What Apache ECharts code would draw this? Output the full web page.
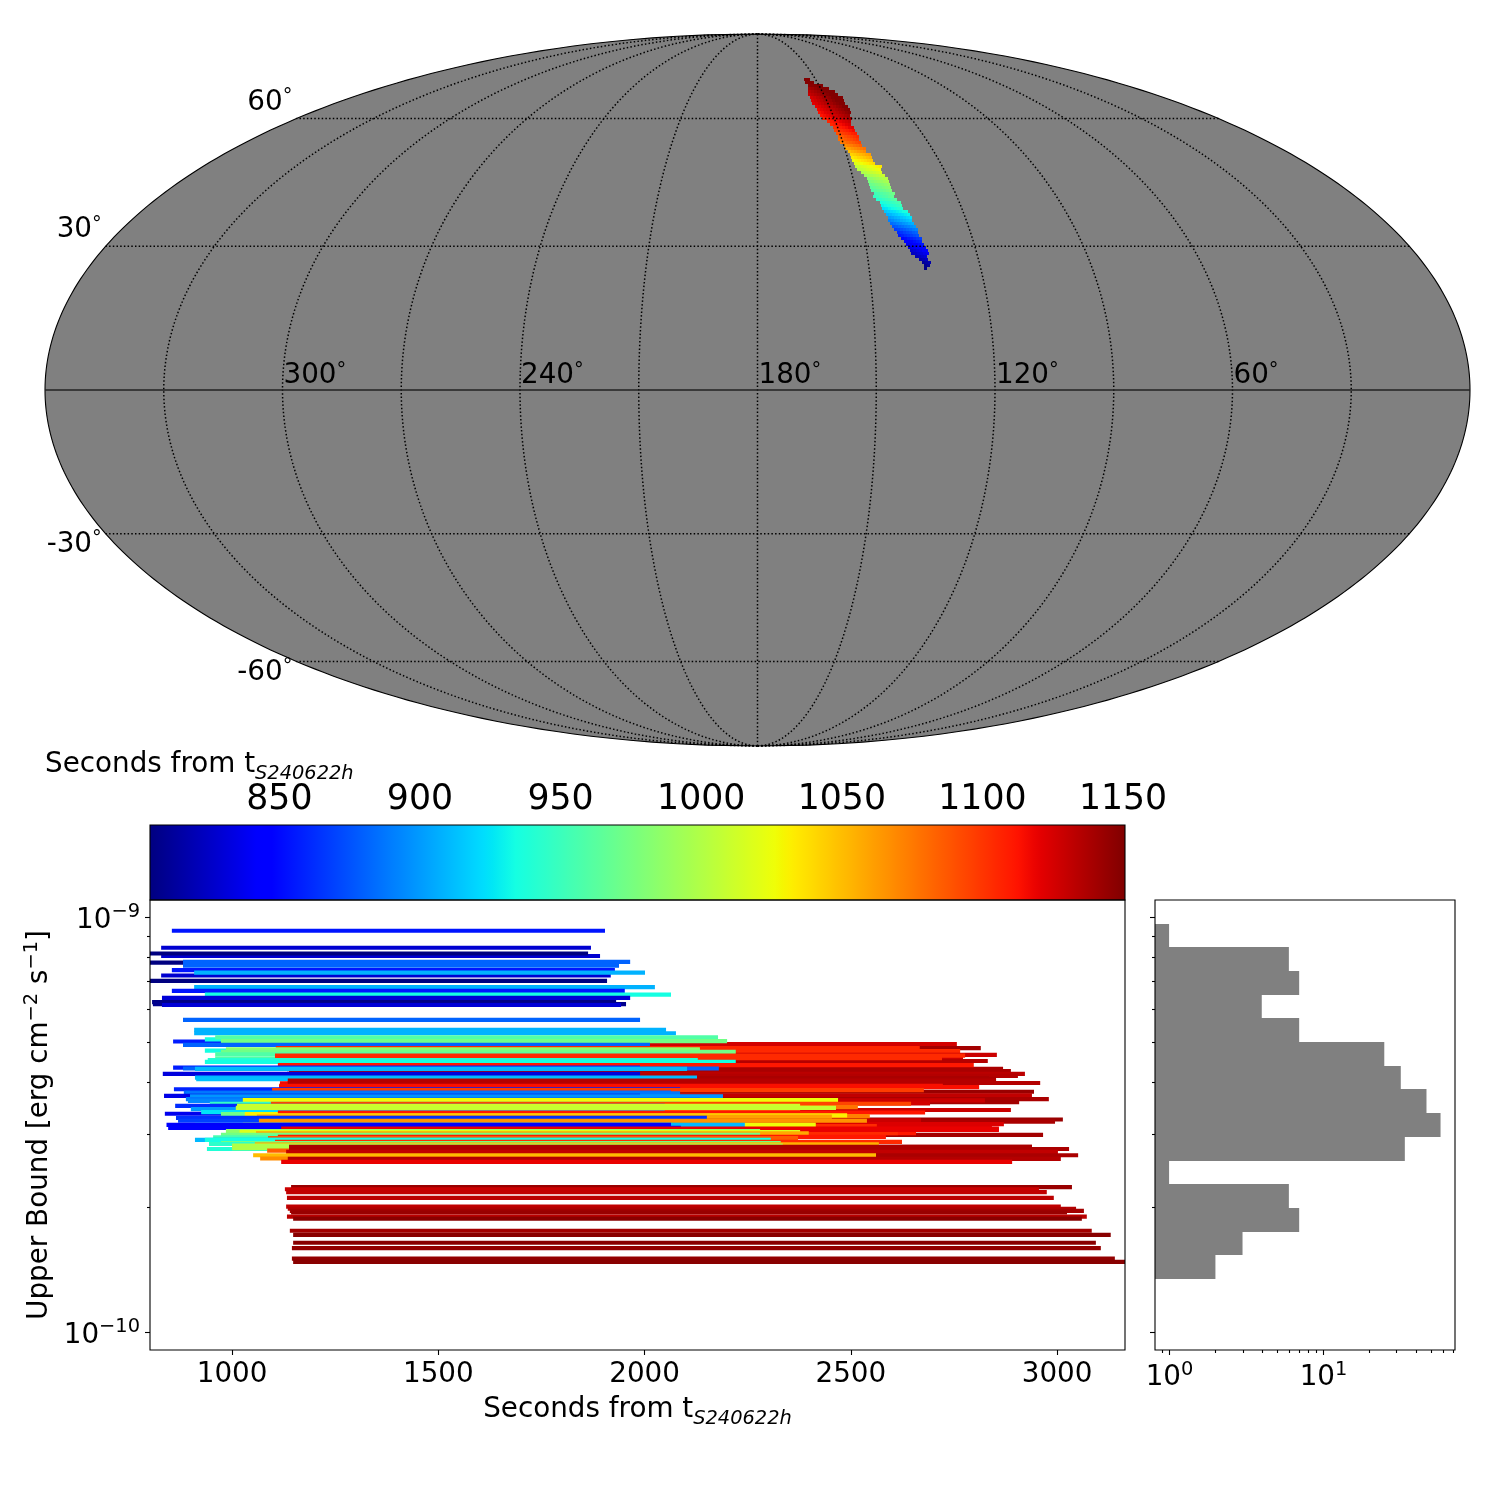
<!DOCTYPE html>
<html><head><meta charset="utf-8">
<style>html,body{margin:0;padding:0;background:#fff}#c{width:1500px;height:1500px}</style>
<script src="https://cdn.jsdelivr.net/npm/echarts@6/dist/echarts.min.js"></script>
</head><body><div id="c"></div>
<script>
// ---------- light-curve upper limits: start (s), end (s), log10(upper bound) ----------
const barStart = [854,828,828,800,800,881,881,854,828,908,800,908,854,934,830,806,808,830,881,908,908,
 1126,1140,1104,1128,1128,1135,1138,1138,1133,1135,1138,1138,1143,1131,1138,1140,1128,1126,1128,1143,1138,1128,1123,1123,1104,1140,1111,1104,1140,1119,
 857,934,959,973,881,1106,934,985,973,959,959,1104,1104,941,934,1111,857,881,910,832,910,913,1116,1135,1135,1114,1114,
 859,1097,883,888,835,898,888,893,1026,946,1094,862,900,1077,1077,1012,1009,837,925,973,1031,1111,1072,1031,1060,864,869,1065,
 1026,910,841,845,1119,985,1018,1058,973,954,1111,1087,910,934,1104,973,944,1055,1000,939,1000,1085,1138,1138,1131,1138,1051,1068,1135,1119,
 1143,1128,1131,1133,1131,1135,1140,1143,1133,1148,1140,1148,1148,1145,1145,1148];
const barEnd = [1904,1870,1892,1863,1867,1965,1938,1928,1918,2001,1909,2025,1952,2064,1965,1931,1955,1943,1989,2052,2076,
 2757,2815,2765,2854,2772,2832,2869,2888,2922,2905,2835,2852,2944,2939,2980,2908,2825,2692,2888,3014,2995,2670,2871,2842,2563,2966,2658,2614,2939,2859,
 1989,2049,2178,2200,2013,2667,2134,2134,2221,2110,2134,2777,2721,2129,2221,2798,1989,2180,2103,1989,2127,2127,2740,2852,2959,2723,2811,
 2086,2677,2064,2086,1989,2190,2134,2166,2469,2086,2646,2049,2110,2517,2377,2377,2464,1989,2049,2049,2425,2680,2546,2491,2454,2151,2086,2539,
 2415,2243,2064,2088,2859,2280,2377,2398,2280,2232,2585,2372,2134,2306,2624,2330,2134,2568,2335,2134,2255,2571,2939,3029,3002,3051,2561,2134,3009,2891,
 3036,2956,2975,2992,3009,3046,3065,3024,3072,3060,3084,3130,3094,3106,3140,3180];
const barLogUB = [-9.033,-9.074,-9.094,-9.088,-9.110,-9.108,-9.117,-9.128,-9.141,-9.134,-9.154,-9.169,-9.178,-9.187,-9.195,-9.205,-9.210,-9.212,-9.248,-9.272,-9.280,
 -9.306,-9.316,-9.323,-9.332,-9.340,-9.347,-9.366,-9.371,-9.378,-9.383,-9.388,-9.390,-9.421,-9.430,-9.439,-9.446,-9.442,-9.449,-9.465,-9.488,-9.493,-9.490,-9.499,-9.504,-9.504,-9.525,-9.521,-9.521,-9.554,-9.513,
 -9.300,-9.295,-9.290,-9.299,-9.308,-9.316,-9.322,-9.319,-9.325,-9.331,-9.341,-9.334,-9.340,-9.345,-9.349,-9.357,-9.363,-9.365,-9.366,-9.378,-9.387,-9.391,-9.401,-9.394,-9.400,-9.407,-9.410,
 -9.415,-9.417,-9.423,-9.425,-9.431,-9.432,-9.439,-9.443,-9.441,-9.450,-9.450,-9.455,-9.463,-9.458,-9.466,-9.455,-9.460,-9.474,-9.470,-9.475,-9.475,-9.471,-9.480,-9.478,-9.481,-9.484,-9.491,-9.491,
 -9.501,-9.501,-9.501,-9.508,-9.510,-9.516,-9.518,-9.521,-9.525,-9.531,-9.530,-9.533,-9.537,-9.537,-9.542,-9.545,-9.547,-9.548,-9.551,-9.559,-9.557,-9.563,-9.554,-9.559,-9.566,-9.574,-9.574,-9.582,-9.583,-9.590,
 -9.651,-9.656,-9.663,-9.677,-9.698,-9.703,-9.708,-9.712,-9.722,-9.727,-9.756,-9.766,-9.785,-9.798,-9.823,-9.831];

// ---------- histogram of upper bounds ----------
const histEdgesLog = [-9.017,-9.072,-9.130,-9.188,-9.243,-9.301,-9.359,-9.415,-9.472,-9.530,-9.588,-9.643,-9.701,-9.759,-9.815,-9.872];
const histCounts = [1,6,7,4,7,25,32,47,58,34,1,6,7,3,2];

// ---------- sky map: rows of cells in Mollweide map units, value = seconds ----------
const skyRowY = [311,308,305,302,299,296,293,290,287,284,281,278,275,272,269,266,263,260,257,254,251,248,245,242,239,236,233,230,227,224,221,218,215,212,209,206,203,200,197,194,191,188,185,182,179,176,173,170,167,164,161,158,155,152,149,146,143,140,137,134,131,128,125,122];
const skyRowX = [46.5,47.5,50.5,50.5,50.5,50.5,52.5,53.5,54.5,57.5,59.5,60.5,62.5,64.5,69.5,72.5,75.5,76.5,78.5,80.5,80.5,82.5,86.5,87.5,90.5,92.5,93.5,94.5,96.5,97.5,99.5,103.5,106.5,109.5,110.5,111.5,112.5,113.5,116.5,115.5,118.5,122.5,123.5,124.5,126.5,128.5,130.5,130.5,132.5,134.5,136.5,139.5,140.5,143.5,146.5,148.5,150.5,152.5,153.5,157.5,161.5,164.5,166.5,166.5];
const skyRowT = [
[1150,1150],[1149,1150,1150],[1147,1148,1149,1150,1150],[1140,1142,1145,1148,1150,1150,1150],
[1134,1137,1140,1143,1146,1149,1150,1150,1150],[1130,1133,1136,1139,1142,1145,1148,1150,1150,1150],
[1125,1128,1132,1135,1139,1142,1145,1149,1150,1150,1150],[1123,1126,1130,1133,1137,1140,1143,1147,1150,1150,1150],
[1121,1124,1128,1131,1135,1138,1141,1145,1148,1150,1150],[1119,1122,1126,1129,1133,1136,1139,1143,1146,1150,1150],
[1117,1120,1124,1127,1131,1134,1137,1141,1144,1148,1150],[1114,1117,1121,1124,1128,1131,1134,1138,1141,1145,1148],
[1112,1115,1118,1121,1125,1128,1132,1135,1139,1142],[1107,1110,1114,1117,1121,1124,1128,1131,1135,1138],
[1106,1110,1113,1117,1120,1124,1127,1130],[1105,1108,1112,1115,1118,1122,1125],[1102,1105,1109,1112,1115,1119,1122],
[1096,1099,1103,1106,1109,1113,1116],[1090,1093,1097,1100,1103,1107,1110],[1084,1087,1091,1094,1097,1101,1104],
[1079,1082,1086,1089,1092,1096,1099],[1074,1077,1081,1084,1087,1091,1094],[1067,1071,1074,1078,1081,1085],
[1058,1061,1065,1068,1071,1075,1078],[1051,1055,1058,1062,1065,1069],[1042,1045,1049,1052,1055,1059,1062],
[1034,1037,1041,1044,1047,1051,1054],[1026,1029,1033,1036,1039,1043,1046],[1019,1022,1026,1029,1032,1036,1039],
[1007,1010,1014,1017,1021,1024,1028,1031,1035],[1002,1006,1009,1013,1016,1020,1023,1026],[998,1001,1005,1008,1011,1015,1018],
[990,993,997,1000,1003,1007,1010],[983,986,990,993,996,1000,1003],[976,979,983,986,989,993,996],[969,972,976,979,982,986,989],
[964,967,971,974,977,981,984],[958,961,965,968,971,975,978],[952,955,959,962,965,969,972],[947,950,954,957,960,964,967],
[942,945,949,952,955,959,962],[936,939,943,946,949,953,956],[930,933,937,940,943,947,950],[923,926,930,933,936,940,943],
[914,917,921,924,928,931,935,938],[907,910,914,917,921,924,928,931],[900,903,907,910,914,917,921,924],[892,895,899,902,906,909,913,916],
[884,887,891,894,898,901,905,908],[876,879,883,886,890,893,897,900],[868,871,875,878,882,885,889,892],[862,865,869,872,875,879,882],
[856,859,863,866,869,873,876],[848,851,855,858,861,865,868],[842,845,849,852,856,859],[837,840,844,847,851,854],[832,835,839,842,846,849],
[827,830,834,837,841,844],[822,825,829,832,836,839],[820,823,827,830],[817,820,823],[812,815,818],[808,812],[806]];

// ---------- axes and labels ----------
const skyMeridians = [30,60,90,120,150,180,210,240,270,300,330];
const skyParallels = [-60,-30,30,60];
const skyLonLabels = [300,240,180,120,60];
const skyLatLabels = [60,30,-30,-60];
const timeTicks = [1000,1500,2000,2500,3000];
const colorTicks = [850,900,950,1000,1050,1100,1150];
const ubMajor = [1e-9,1e-10];
const ubMinor = [9e-10,8e-10,7e-10,6e-10,5e-10,4e-10,3e-10,2e-10];
const histMajor = [1,10];
const histMinor = [0.9,2,3,4,5,6,7,8,9,20,30,40,50,60,70];
const timeLabel = 'Seconds from t';
const eventLabel = 'S240622h';

const FONT = 'DejaVu Sans';
const cMin = 804, cMax = 1150.7;
function lerp(p,x){ for(let i=1;i<p.length;i++){ if(x<=p[i][0]){ const a=p[i-1],b=p[i]; return a[1]+(b[1]-a[1])*(x-a[0])/(b[0]-a[0]); } } return p[p.length-1][1]; }
function jet(f){ f=Math.max(0,Math.min(1,f));
 const r=lerp([[0,0],[.35,0],[.66,1],[.89,1],[1,.5]],f), g=lerp([[0,0],[.125,0],[.375,1],[.64,1],[.91,0],[1,0]],f), b=lerp([[0,.5],[.11,1],[.34,1],[.65,0],[1,0]],f);
 return 'rgb('+Math.round(r*255)+','+Math.round(g*255)+','+Math.round(b*255)+')'; }
const timeColor = t => jet((t-cMin)/(cMax-cMin));

// Mollweide projection to map units
const AX=712.5, AY=356;
function moll(lon,lat){ const phi=lat*Math.PI/180; let th=phi;
 if(Math.abs(lat)>=90){ th=Math.sign(lat)*Math.PI/2; } else { for(let i=0;i<60;i++){ th-=(2*th+Math.sin(2*th)-Math.PI*Math.sin(phi))/(2+2*Math.cos(2*th)); } }
 return [-(lon-180)/180*AX*Math.cos(th), AY*Math.sin(th)]; }
const latSamples=[], lonSamples=[], boundary=[];
for(let a=-90;a<=90;a+=1) latSamples.push(a);
for(let a=0;a<=360;a+=2) lonSamples.push(a);
latSamples.forEach(a=>boundary.push(moll(0,a)));
latSamples.slice().reverse().forEach(a=>boundary.push(moll(360,a)));

const subStyles = {
 a:{fontSize:27.8,fontFamily:FONT,color:'#000',lineHeight:36},
 s:{fontSize:19.4,fontFamily:FONT,fontStyle:'italic',color:'#000',lineHeight:26,verticalAlign:'bottom',padding:[8,0,0,0]}
};
const subText = '{a|'+timeLabel+'}{s|'+eventLabel+'}';
const powStyles = {a:{fontSize:27.8,fontFamily:FONT,color:'#000',lineHeight:36},p:{fontSize:19.4,fontFamily:FONT,color:'#000',lineHeight:20,verticalAlign:'top',padding:[0,0,8,0]}};
const degStyles = {a:{fontSize:27.8,fontFamily:FONT,color:'#000',lineHeight:30},d:{fontSize:19.4,fontFamily:FONT,color:'#000',lineHeight:20,verticalAlign:'top',padding:[0,0,8,0]}};

const mainYMin=Math.pow(10,-10.0434), mainYMax=Math.pow(10,-8.959);
const barData=barStart.map((s,i)=>[s,barEnd[i],Math.pow(10,barLogUB[i])]);
const histData=histCounts.map((c,i)=>[c,Math.pow(10,histEdgesLog[i]),Math.pow(10,histEdgesLog[i+1])]);
const skyCells=[]; skyRowT.forEach((row,r)=>row.forEach((t,k)=>skyCells.push([skyRowX[r]+k*3,skyRowY[r],t])));

const series=[];
// sky background
series.push({type:'custom',xAxisIndex:0,yAxisIndex:0,silent:true,clip:false,data:[[0,0]],
 renderItem:(p,api)=>({type:'polygon',shape:{points:boundary.map(b=>api.coord(b))},style:{fill:'#808080',stroke:'#000',lineWidth:1.1}})});
// sky cells
series.push({type:'custom',xAxisIndex:0,yAxisIndex:0,silent:true,clip:false,encode:{x:0,y:1},data:skyCells,
 renderItem:(p,api)=>{const x=api.value(0),y=api.value(1),a=api.coord([x,y+1.5]),b=api.coord([x+3,y-1.5]);
  const x0=Math.round(a[0]),y0=Math.round(a[1]);
  return {type:'rect',shape:{x:x0,y:y0,width:Math.round(b[0])-x0,height:Math.round(b[1])-y0},style:{fill:timeColor(api.value(2))}};}});
// graticule
const dotted={color:'#000',width:1.5,type:[1.5,2.2]};
skyMeridians.forEach(m=>series.push({type:'line',xAxisIndex:0,yAxisIndex:0,silent:true,showSymbol:false,symbol:'none',lineStyle:dotted,data:latSamples.map(a=>moll(m,a))}));
skyParallels.forEach(a=>series.push({type:'line',xAxisIndex:0,yAxisIndex:0,silent:true,showSymbol:false,symbol:'none',lineStyle:dotted,data:lonSamples.map(l=>moll(l,a))}));
series.push({type:'line',xAxisIndex:0,yAxisIndex:0,silent:true,showSymbol:false,symbol:'none',lineStyle:{color:'#222',width:1.4},data:lonSamples.map(l=>moll(l,0))});
// sky labels
series.push({type:'custom',xAxisIndex:0,yAxisIndex:0,silent:true,clip:false,data:skyLonLabels.map(l=>moll(l,0).concat([l])),encode:{x:0,y:1},
 renderItem:(p,api)=>{const c=api.coord([api.value(0),api.value(1)]);
  return {type:'text',style:{text:'{a|'+api.value(2)+'}{d|°}',rich:degStyles,x:c[0]+1,y:c[1]+1,align:'left',verticalAlign:'bottom'}};}});
series.push({type:'custom',xAxisIndex:0,yAxisIndex:0,silent:true,clip:false,data:skyLatLabels.map(l=>moll(360,l).concat([l])),encode:{x:0,y:1},
 renderItem:(p,api)=>{const c=api.coord([api.value(0),api.value(1)]),l=api.value(2);
  return {type:'text',style:{text:'{a|'+l+'}{d|°}',rich:degStyles,x:c[0]-4,y:l>0?c[1]-1:c[1]-4,align:'right',verticalAlign:l>0?'bottom':'top'}};}});
// colour bar
series.push({type:'custom',xAxisIndex:1,yAxisIndex:1,silent:true,clip:true,data:[[cMin,0,cMax,1]],encode:{x:[0,2],y:[1,3]},
 renderItem:(p,api)=>{const a=api.coord([cMin,1]),b=api.coord([cMax,0]);const stops=[];for(let i=0;i<=128;i++)stops.push({offset:i/128,color:jet(i/128)});
  return {type:'rect',shape:{x:a[0],y:a[1],width:b[0]-a[0],height:b[1]-a[1]},style:{fill:new echarts.graphic.LinearGradient(0,0,1,0,stops)}};}});
// upper limit bars
series.push({type:'custom',xAxisIndex:2,yAxisIndex:2,silent:true,clip:true,encode:{x:[0,1],y:2},data:barData,
 renderItem:(p,api)=>{const ub=api.value(2),s=api.value(0),a=api.coord([s,ub]),b=api.coord([api.value(1),ub]);
  return {type:'rect',shape:{x:a[0],y:a[1]-2.08,width:b[0]-a[0],height:4.17},style:{fill:timeColor(s)}};}});
// main log-axis ticks and labels
function yTicks(xi,yi,labels){ return {type:'custom',xAxisIndex:xi,yAxisIndex:yi,silent:true,clip:false,
 data:ubMajor.map(v=>[v,1]).concat(ubMinor.map(v=>[v,0])),encode:{y:0},
 renderItem:(p,api)=>{const v=api.value(0),maj=api.value(1)===1,c=api.coord([xi===2?3000:1,v]);const x0=p.coordSys.x,y=Math.round(c[1])+.5;
  const kids=[{type:'line',shape:{x1:x0,y1:y,x2:x0-(maj?5:3),y2:y},style:{stroke:'#000',lineWidth:1.1}}];
  if(labels&&maj) kids.push({type:'text',style:{text:'{a|10}{p|−'+(v>5e-10?9:10)+'}',x:x0-10,y:y+3,align:'right',verticalAlign:'middle',rich:powStyles}});
  return {type:'group',children:kids};}};}
series.push(yTicks(2,2,true));
// histogram
series.push({type:'custom',xAxisIndex:3,yAxisIndex:3,silent:true,clip:true,encode:{x:0,y:[1,2]},data:histData,
 renderItem:(p,api)=>{const a=api.coord([api.value(0),api.value(1)]),b=api.coord([api.value(0),api.value(2)]),x0=p.coordSys.x,y0=Math.round(a[1]);
  return {type:'rect',shape:{x:x0,y:y0,width:a[0]-x0,height:Math.round(b[1])-y0},style:{fill:'#808080'}};}});
series.push(yTicks(3,3,false));
series.push({type:'custom',xAxisIndex:3,yAxisIndex:3,silent:true,clip:false,
 data:histMajor.map(v=>[v,1]).concat(histMinor.map(v=>[v,0])),encode:{x:0},
 renderItem:(p,api)=>{const v=api.value(0),maj=api.value(1)===1,c=api.coord([v,1e-9]),y0=p.coordSys.y+p.coordSys.height,x=Math.round(c[0])+.5;
  const kids=[{type:'line',shape:{x1:x,y1:y0,x2:x,y2:y0+(maj?5:3)},style:{stroke:'#000',lineWidth:1.1}}];
  if(maj) kids.push({type:'text',style:{text:'{a|10}{p|'+(v===1?0:1)+'}',x:x,y:y0+28,align:'center',verticalAlign:'middle',rich:powStyles}});
  return {type:'group',children:kids};}});

const hidden={show:false};
const plain=v=>String(v);
const option={animation:false,backgroundColor:'#fff',
 title:{left:45,top:747,padding:0,text:subText,textStyle:{rich:subStyles,fontFamily:FONT,fontSize:27.8,color:'#000',fontWeight:'normal'}},
 grid:[
  {left:45,top:34,width:1425,height:712,show:false},
  {left:150,top:825,width:975,height:75,show:true,z:5,borderColor:'#000',borderWidth:1.1},
  {left:150,top:900,width:975,height:450,show:true,z:5,borderColor:'#000',borderWidth:1.1},
  {left:1155,top:900,width:300,height:450,show:true,z:5,borderColor:'#000',borderWidth:1.1}],
 xAxis:[
  {gridIndex:0,type:'value',min:-AX,max:AX,show:false},
  {gridIndex:1,type:'value',min:cMin,max:cMax,position:'top',axisLine:hidden,splitLine:hidden,
   axisTick:{show:true,length:5,customValues:colorTicks,lineStyle:{color:'#000',width:1.1}},
   axisLabel:{customValues:colorTicks,formatter:plain,fontSize:34.7,fontFamily:FONT,color:'#000',margin:8,hideOverlap:false}},
  {gridIndex:2,type:'value',min:801,max:3164.6,axisLine:hidden,splitLine:hidden,
   axisTick:{show:true,length:5,customValues:timeTicks,lineStyle:{color:'#000',width:1.1}},
   axisLabel:{customValues:timeTicks,formatter:plain,fontSize:27.8,fontFamily:FONT,color:'#000',margin:11,hideOverlap:false},
   name:subText,nameLocation:'middle',nameGap:42,nameTextStyle:{rich:subStyles,fontFamily:FONT,fontSize:27.8,color:'#000'}},
  {gridIndex:3,type:'log',logBase:10,min:0.81,max:72,show:false,axisLine:hidden,axisTick:hidden,axisLabel:hidden,splitLine:hidden}],
 yAxis:[
  {gridIndex:0,type:'value',min:-AY,max:AY,show:false},
  {gridIndex:1,type:'value',min:0,max:1,show:false},
  {gridIndex:2,type:'log',logBase:10,min:mainYMin,max:mainYMax,axisLine:hidden,axisTick:hidden,axisLabel:hidden,splitLine:hidden,
   name:'{a|Upper Bound [erg cm}{p|−2}{a| s}{p|−1}{a|]}',nameLocation:'middle',nameGap:92,nameRotate:90,nameTextStyle:{rich:powStyles,fontFamily:FONT,fontSize:27.8,color:'#000'}},
  {gridIndex:3,type:'log',logBase:10,min:mainYMin,max:mainYMax,show:false,axisLine:hidden,axisTick:hidden,axisLabel:hidden,splitLine:hidden}],
 series:series};
const chart=echarts.init(document.getElementById('c'),null,{width:1500,height:1500});
chart.setOption(option);
</script></body></html>
